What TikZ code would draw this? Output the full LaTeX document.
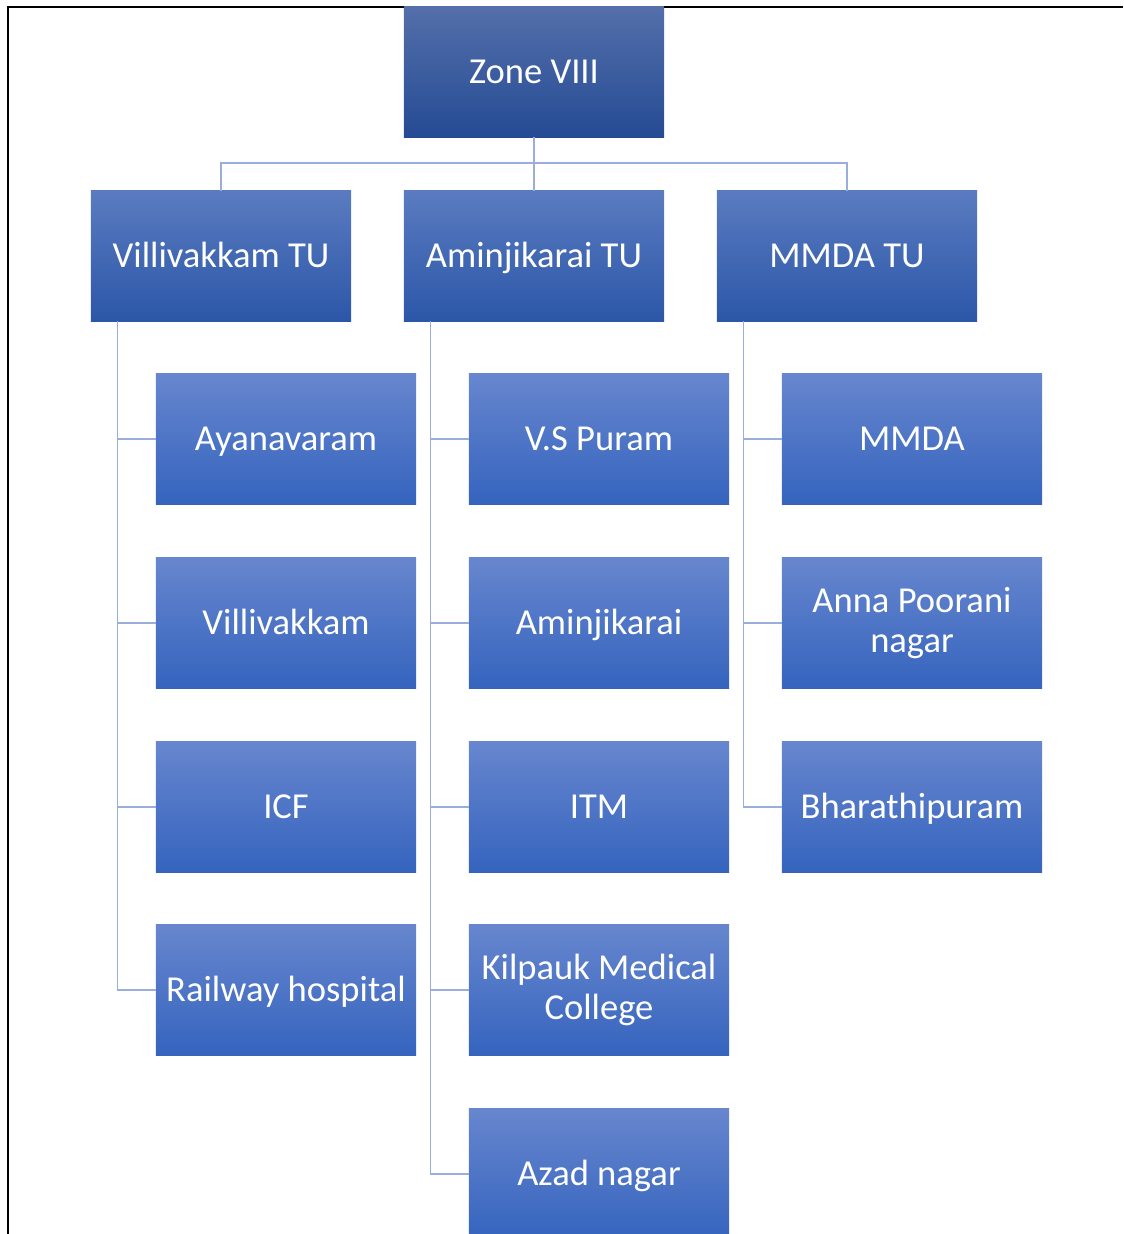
\documentclass[tikz,border=0pt]{standalone}
\usepackage{fontspec}
\setmainfont{Carlito}
\usepackage{tikz}
\definecolor{zonetop}{RGB}{84,111,170}
\definecolor{zonebot}{RGB}{37,75,148}
\definecolor{tutop}{RGB}{90,123,192}
\definecolor{tubot}{RGB}{44,87,168}
\definecolor{subtop}{RGB}{103,134,206}
\definecolor{subbot}{RGB}{53,100,190}
\definecolor{linkcol}{RGB}{154,174,221}
\tikzset{
	orgbox/.style={rectangle,inner sep=0pt,minimum width=6.5cm,minimum height=3.25cm,
		text=white,align=center,font=\fontsize{26}{28.5}\selectfont,
		text height=21pt,text depth=4.4pt},
	twoline/.style={text height=,text depth=},
	zonebox/.style={orgbox,top color=zonetop,bottom color=zonebot},
	tubox/.style={orgbox,top color=tutop,bottom color=tubot},
	subbox/.style={orgbox,top color=subtop,bottom color=subbot},
	link/.style={draw=linkcol,line width=0.05cm},
	sublink/.style={draw=linkcol,line width=0.03cm}
}
\begin{document}
\begin{tikzpicture}[x=0.025cm,y=0.025cm]
	\clip (0,0) rectangle (1123,-1234);
	\draw[line width=0.9pt] (8,-1234) -- (8,-7) -- (1123,-7);
	
	\node[zonebox] (zone) at (534,-72) {Zone VIII};
	\node[tubox] (villtu) at (221,-256) {Villivakkam TU};
	\node[tubox] (aminjtu) at (534,-256) {Aminjikarai TU};
	\node[tubox] (mmdatu) at (847,-256) {MMDA TU};
	\coordinate (bus) at (534,-163);
	
	\node[subbox] (ayan) at (286,-439) {Ayanavaram};
	\node[subbox] (vill) at (286,-623) {Villivakkam};
	\node[subbox] (icf) at (286,-807) {ICF};
	\node[subbox] (rail) at (286,-990) {Railway hospital};
	
	\node[subbox] (vspuram) at (599,-439) {V.S Puram};
	\node[subbox] (aminj) at (599,-623) {Aminjikarai};
	\node[subbox] (itm) at (599,-807) {ITM};
	\node[subbox,twoline] (kilpauk) at (599,-990) {Kilpauk Medical\\College};
	\node[subbox] (azad) at (599,-1174) {Azad nagar};
	
	\node[subbox] (mmda) at (912,-439) {MMDA};
	\node[subbox,twoline] (anna) at (912,-623) {Anna Poorani\\nagar};
	\node[subbox] (bharathi) at (912,-807) {Bharathipuram};
	
	% top level
	\draw[link] (zone.south) -- (aminjtu.north);
	\draw[link] (villtu.north) |- (bus) -| (mmdatu.north);
	
	% branches
	\draw[sublink] ([xshift=0.675cm]villtu.south west) |- (ayan.west);
	\draw[sublink] ([xshift=0.675cm]villtu.south west) |- (vill.west);
	\draw[sublink] ([xshift=0.675cm]villtu.south west) |- (icf.west);
	\draw[sublink] ([xshift=0.675cm]villtu.south west) |- (rail.west);
	\draw[sublink] ([xshift=0.675cm]aminjtu.south west) |- (vspuram.west);
	\draw[sublink] ([xshift=0.675cm]aminjtu.south west) |- (aminj.west);
	\draw[sublink] ([xshift=0.675cm]aminjtu.south west) |- (itm.west);
	\draw[sublink] ([xshift=0.675cm]aminjtu.south west) |- (kilpauk.west);
	\draw[sublink] ([xshift=0.675cm]aminjtu.south west) |- (azad.west);
	\draw[sublink] ([xshift=0.675cm]mmdatu.south west) |- (mmda.west);
	\draw[sublink] ([xshift=0.675cm]mmdatu.south west) |- (anna.west);
	\draw[sublink] ([xshift=0.675cm]mmdatu.south west) |- (bharathi.west);
\end{tikzpicture}
\end{document}
